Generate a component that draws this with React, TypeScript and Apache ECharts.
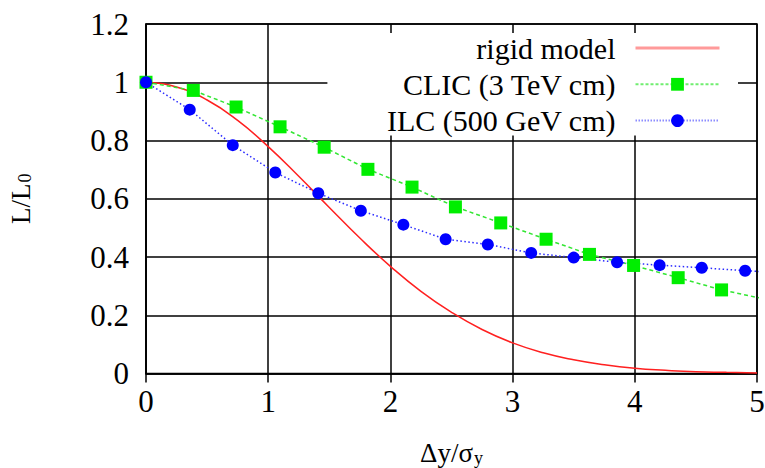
import React, { useEffect, useRef } from 'react';
import * as echarts from 'echarts';

const legendNames = ['rigid model', 'CLIC (3 TeV cm)', 'ILC (500 GeV cm)'];

// rigid model curve
const rigidX = [0, 0.25, 0.5, 0.75, 1, 1.25, 1.5, 1.75, 2, 2.25, 2.5, 2.75, 3, 3.25, 3.5, 3.75, 4, 4.25, 4.5, 4.75, 5];
const rigidY = [1, 0.984, 0.939, 0.869, 0.779, 0.677, 0.570, 0.465, 0.368, 0.282, 0.210, 0.151, 0.105, 0.071, 0.047, 0.030, 0.018, 0.011, 0.006, 0.004, 0.002];

// CLIC (3 TeV cm)
const clicX = [0, 0.387, 0.737, 1.097, 1.458, 1.816, 2.177, 2.532, 2.903, 3.274, 3.629, 3.99, 4.355, 4.71, 5.07];
const clicY = [1.0, 0.972, 0.915, 0.847, 0.777, 0.701, 0.640, 0.572, 0.517, 0.461, 0.409, 0.371, 0.329, 0.287, 0.255];

// ILC (500 GeV cm)
const ilcX = [0, 0.358, 0.71, 1.058, 1.41, 1.758, 2.106, 2.452, 2.797, 3.152, 3.5, 3.855, 4.203, 4.548, 4.903, 5.25];
const ilcY = [1.0, 0.906, 0.784, 0.690, 0.619, 0.559, 0.511, 0.461, 0.443, 0.414, 0.398, 0.382, 0.372, 0.363, 0.353, 0.345];

const font = "'Liberation Serif', 'DejaVu Serif', serif";

export default function App() {
  const ref = useRef<HTMLDivElement>(null);
  useEffect(() => {
    document.body.style.margin = '0';
    const chart = echarts.init(ref.current!, null, { renderer: 'svg' });
    const black = { color: '#000', width: 1.5 };
    const nameRich = {
      m: { fontFamily: font, fontSize: 27, lineHeight: 27, color: '#000', verticalAlign: 'top' },
      sub: { fontFamily: font, fontSize: 18, lineHeight: 18, color: '#000', verticalAlign: 'bottom', padding: [14, 0, 0, 1] },
    };
    const option: any = {
      animation: false,
      backgroundColor: '#fff',
      grid: {
        left: 146, right: 8, top: 24, bottom: 94.5, show: true, borderColor: '#000', borderWidth: 1.5,
        backgroundColor: 'transparent', outerBoundsMode: 'none', containLabel: false,
      },
      xAxis: [
        {
          type: 'value', min: 0, max: 5, interval: 1,
          axisLine: { show: true, onZero: false, lineStyle: black },
          axisTick: { show: false },
          splitLine: { show: true, lineStyle: black },
          axisLabel: { color: '#000', fontFamily: font, fontSize: 31, margin: 12 },
          name: '{m|Δy/σ}{sub|y}', nameLocation: 'middle', nameGap: 66,
          nameTextStyle: { color: '#000', fontFamily: font, fontSize: 27, rich: nameRich },
        },
        {
          type: 'value', min: 0, max: 5, interval: 1, position: 'top',
          axisLine: { show: false },
          axisTick: { show: true, inside: true, length: 9, lineStyle: black },
          axisLabel: { show: false },
          splitLine: { show: false },
        },
      ],
      yAxis: {
        type: 'value', min: 0, max: 1.2, interval: 0.2,
        axisLine: { show: true, onZero: false, lineStyle: black },
        axisTick: { show: false },
        splitLine: { show: true, lineStyle: black },
        axisLabel: { color: '#000', fontFamily: font, fontSize: 31, margin: 17 },
        name: '{m|L/L}{sub|0}', nameLocation: 'middle', nameGap: 112, nameRotate: 90,
        nameTextStyle: { color: '#000', fontFamily: font, fontSize: 27, rich: nameRich },
      },
      legend: {
        data: [
          { name: legendNames[0], lineStyle: { color: '#ff9a9a', width: 3 } },
          { name: legendNames[1], lineStyle: { color: '#70ee70', width: 2, type: [3, 2] } },
          { name: legendNames[2], lineStyle: { color: '#8c8cff', width: 2, type: [1.5, 1.5] } },
        ],
        orient: 'vertical', align: 'right', right: 27, top: 33,
        padding: [0, 17, 0, 59], itemGap: 6.3, itemWidth: 84, itemHeight: 16,
        backgroundColor: '#fff', selectedMode: false,
        textStyle: { fontFamily: font, fontSize: 30, color: '#000', lineHeight: 24, padding: [0, 15, 0, 0] },
      },
      series: [
        {
          name: legendNames[0], type: 'line', smooth: true, symbol: 'none',
          data: rigidX.map((x, i) => [x, rigidY[i]]),
          lineStyle: { color: '#ff2020', width: 1.5 }, itemStyle: { color: 'rgba(0,0,0,0)' },
        },
        {
          name: legendNames[1], type: 'line', symbol: 'rect', symbolSize: 13,
          data: clicX.map((x, i) => [x, clicY[i]]),
          lineStyle: { color: '#33e633', width: 1.5, type: [4, 3] }, itemStyle: { color: '#00ee00', borderWidth: 0 },
        },
        {
          name: legendNames[2], type: 'line', symbol: 'circle', symbolSize: 12,
          data: ilcX.map((x, i) => [x, ilcY[i]]),
          lineStyle: { color: '#2b2bff', width: 1.5, type: [1.5, 2.5] }, itemStyle: { color: '#0000ff', borderWidth: 0 },
        },
      ],
    };
    chart.setOption(option);
    return () => chart.dispose();
  }, []);
  return <div ref={ref} style={{ width: 765, height: 468 }} />;
}
